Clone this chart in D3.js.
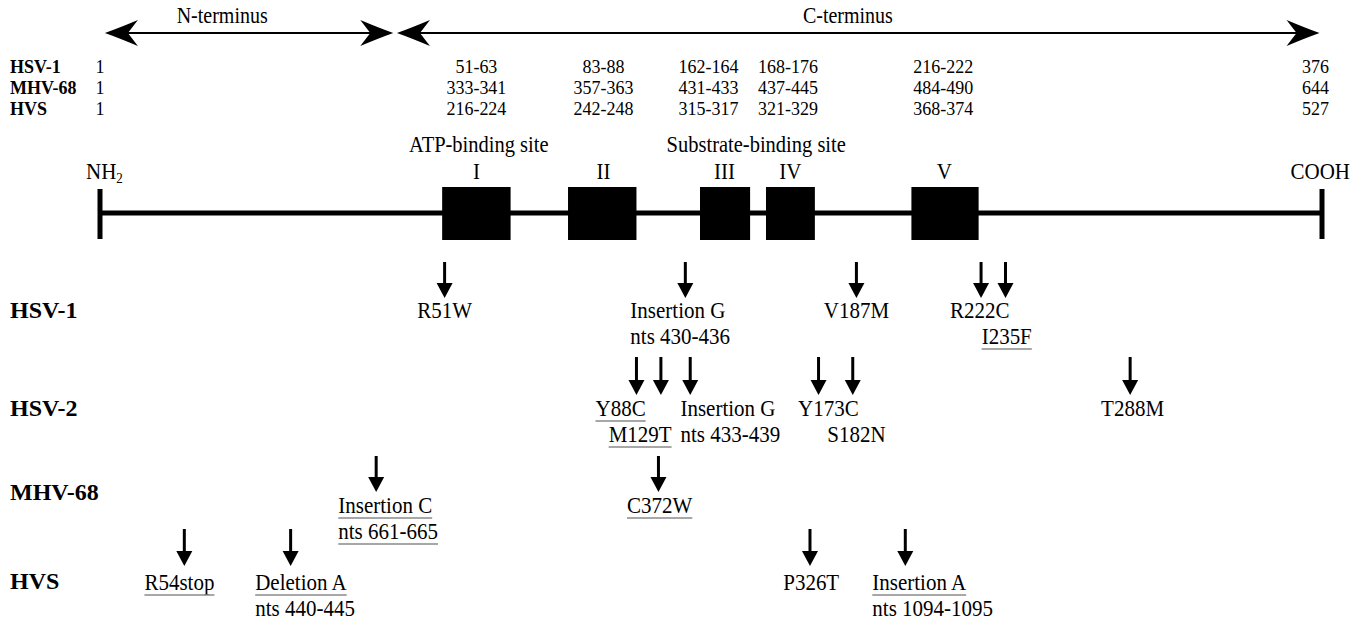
<!DOCTYPE html>
<html><head><meta charset="utf-8">
<script src="https://cdn.jsdelivr.net/npm/d3@7"></script>
<style>
html,body{margin:0;padding:0;background:#fff;}
svg text{font-family:"Liberation Serif","Times New Roman",serif;fill:#000;}
</style></head>
<body>
<svg id="chart" width="1364" height="620"></svg>
<script>
// ---------- DATA ----------
// positions in schematic units along the protein backbone (0 = NH2 end, 100 = COOH end)
const tableViruses = ["HSV-1", "MHV-68", "HVS"];
const tableStart = ["1", "1", "1"];
const tableEnd = ["376", "644", "527"];
const motifRangesHSV1 = ["51-63", "83-88", "162-164", "168-176", "216-222"];
const motifRangesMHV68 = ["333-341", "357-363", "431-433", "437-445", "484-490"];
const motifRangesHVS = ["216-224", "242-248", "315-317", "321-329", "368-374"];
const motifColumnPos = [30.8, 41.2, 49.8, 56.3, 69.0];

const motifNames = ["I", "II", "III", "IV", "V"];
const motifStart = [28.0, 38.3, 49.1, 54.5, 66.4];
const motifEnd = [33.6, 43.9, 53.2, 58.5, 71.9];
const motifLabelPos = [30.8, 41.2, 51.1, 56.5, 69.1];

const siteNames = ["ATP-binding site", "Substrate-binding site"];
const sitePos = [31.0, 53.7];

const terminusNames = ["N-terminus", "C-terminus"];
const terminusFrom = [0.4, 24.3];
const terminusTo = [24.0, 99.8];
const terminusLabelPos = [10.0, 61.2];

const mutantRows = ["HSV-1", "HSV-2", "MHV-68", "HVS"];
const arrowRow = ["HSV-1","HSV-1","HSV-1","HSV-1","HSV-1",
                  "HSV-2","HSV-2","HSV-2","HSV-2","HSV-2","HSV-2",
                  "MHV-68","MHV-68",
                  "HVS","HVS","HVS","HVS"];
const arrowPos = [28.2, 47.9, 61.9, 72.1, 74.1,
                  43.9, 45.9, 48.3, 58.8, 61.6, 84.3,
                  22.6, 45.7,
                  6.9, 15.6, 58.1, 65.9];
const labelRow = ["HSV-1","HSV-1","HSV-1","HSV-1","HSV-1","HSV-1",
                  "HSV-2","HSV-2","HSV-2","HSV-2","HSV-2","HSV-2","HSV-2",
                  "MHV-68","MHV-68","MHV-68",
                  "HVS","HVS","HVS","HVS","HVS","HVS"];
const labelText = ["R51W","Insertion G","nts 430-436","V187M","R222C","I235F",
                   "Y88C","M129T","Insertion G","nts 433-439","Y173C","S182N","T288M",
                   "Insertion C","nts 661-665","C372W",
                   "R54stop","Deletion A","nts 440-445","P326T","Insertion A","nts 1094-1095"];
const labelPos = [28.2, 43.4, 43.4, 61.9, 72.0, 74.2,
                  42.6, 44.2, 47.5, 47.5, 59.6, 61.9, 84.5,
                  19.5, 19.5, 45.8,
                  6.5, 12.7, 12.7, 58.2, 63.2, 63.2];
const labelLine = [0,0,1,0,0,1,
                   0,1,0,1,0,1,0,
                   0,1,0,
                   0,0,1,0,0,1];
const labelAnchor = ["middle","start","start","middle","middle","middle",
                     "middle","middle","start","start","middle","middle","middle",
                     "start","start","middle",
                     "middle","start","start","middle","start","start"];
const labelUnderlined = [false,false,false,false,false,true,
                         true,true,false,false,false,false,false,
                         true,true,true,
                         true,true,false,false,true,false];

// ---------- LAYOUT ----------
const svg = d3.select("#chart");
const x = d3.scaleLinear().domain([0, 100]).range([100, 1322]);
const tableY = d3.scalePoint().domain(tableViruses).range([73, 115]);
const rowLayout = {
  "HSV-1":  {label: 318, top: 262, tip: 298, text: 318},
  "HSV-2":  {label: 416, top: 357, tip: 395, text: 416},
  "MHV-68": {label: 500, top: 456, tip: 492, text: 513},
  "HVS":    {label: 589, top: 529, tip: 566, text: 590}
};
const lineGap = 26;
const backboneY = 213;

function addText(g, px, py, str, size, opts = {}) {
  const s = opts.stretch || 1.15;
  const t = g.append("text")
    .attr("transform", `translate(${px},${py}) scale(1,${s})`)
    .attr("text-anchor", opts.anchor || "start")
    .attr("font-size", size)
    .text(str);
  if (opts.bold) t.attr("font-weight", "bold");
  return t;
}

// ---------- TOP TERMINUS ARROWS ----------
const headPath = "M0,0 Q-14,-5 -33,-13 L-23,0 L-33,13 Q-14,5 0,0 Z";
const term = svg.append("g");
terminusNames.forEach((name, i) => {
  const x1 = x(terminusFrom[i]), x2 = x(terminusTo[i]);
  term.append("line").attr("x1", x1 + 10).attr("x2", x2 - 10)
    .attr("y1", 33).attr("y2", 33).attr("stroke", "#000").attr("stroke-width", 2);
  term.append("path").attr("d", headPath).attr("transform", `translate(${x2},33)`);
  term.append("path").attr("d", headPath).attr("transform", `translate(${x1},33) rotate(180)`);
  addText(term, x(terminusLabelPos[i]), 23, name, 20, {anchor: "middle", stretch: 1.2});
});

// ---------- TABLE ----------
const motifTable = [motifRangesHSV1, motifRangesMHV68, motifRangesHVS];
const tbl = svg.append("g");
tableViruses.forEach((v, i) => {
  const y = tableY(v);
  addText(tbl, 10, y, v, 18, {bold: true, stretch: 1.05});
  addText(tbl, x(0), y, tableStart[i], 18, {anchor: "middle", stretch: 1.05});
  motifTable[i].forEach((r, j) => {
    addText(tbl, x(motifColumnPos[j]), y, r, 18, {anchor: "middle", stretch: 1.05});
  });
  addText(tbl, x(100) + 7, y, tableEnd[i], 18, {anchor: "end", stretch: 1.05});
});

// ---------- BACKBONE ----------
const bb = svg.append("g");
siteNames.forEach((s, i) => addText(bb, x(sitePos[i]), 152, s, 20.5, {anchor: "middle", stretch: 1.15}));
motifNames.forEach((m, i) => addText(bb, x(motifLabelPos[i]), 179, m, 21, {anchor: "middle", stretch: 1.1}));
const nh = addText(bb, x(0) - 14, 179, "", 21, {stretch: 1.1});
nh.append("tspan").text("NH");
nh.append("tspan").attr("font-size", 13).attr("dy", 4).text("2");
addText(bb, x(100) + 28, 179, "COOH", 21, {anchor: "end", stretch: 1.1});

bb.append("line").attr("x1", x(0)).attr("x2", x(100)).attr("y1", backboneY).attr("y2", backboneY)
  .attr("stroke", "#000").attr("stroke-width", 5);
[0, 100].forEach(p => {
  bb.append("line").attr("x1", x(p)).attr("x2", x(p)).attr("y1", backboneY - 24).attr("y2", backboneY + 26)
    .attr("stroke", "#000").attr("stroke-width", 5);
});
bb.selectAll("rect.motif").data(motifNames).join("rect").attr("class", "motif")
  .attr("x", (d, i) => x(motifStart[i]))
  .attr("width", (d, i) => x(motifEnd[i]) - x(motifStart[i]))
  .attr("y", 187).attr("height", 53).attr("fill", "#000");

// ---------- MUTATION ROWS ----------
const mut = svg.append("g");
mutantRows.forEach(r => addText(mut, 10, rowLayout[r].label, r, 24, {bold: true, stretch: 1.0}));
arrowPos.forEach((p, i) => {
  const L = rowLayout[arrowRow[i]];
  const cx = x(p);
  mut.append("line").attr("x1", cx).attr("x2", cx).attr("y1", L.top).attr("y2", L.tip - 10)
    .attr("stroke", "#000").attr("stroke-width", 3);
  mut.append("path").attr("d", `M${cx - 8},${L.tip - 15} L${cx + 8},${L.tip - 15} L${cx},${L.tip} Z`)
    .attr("fill", "#000");
});
labelText.forEach((t, i) => {
  const L = rowLayout[labelRow[i]];
  const y = L.text + labelLine[i] * lineGap;
  const tx = addText(mut, x(labelPos[i]), y, t, 21, {anchor: labelAnchor[i], stretch: 1.1});
  if (labelUnderlined[i]) {
    const w = tx.node().getComputedTextLength();
    const x0 = labelAnchor[i] === "middle" ? x(labelPos[i]) - w / 2 : x(labelPos[i]);
    mut.append("line").attr("x1", x0).attr("x2", x0 + w).attr("y1", y + 5).attr("y2", y + 5)
      .attr("stroke", "#8a8a8a").attr("stroke-width", 1.6);
  }
});
</script>
</body></html>
